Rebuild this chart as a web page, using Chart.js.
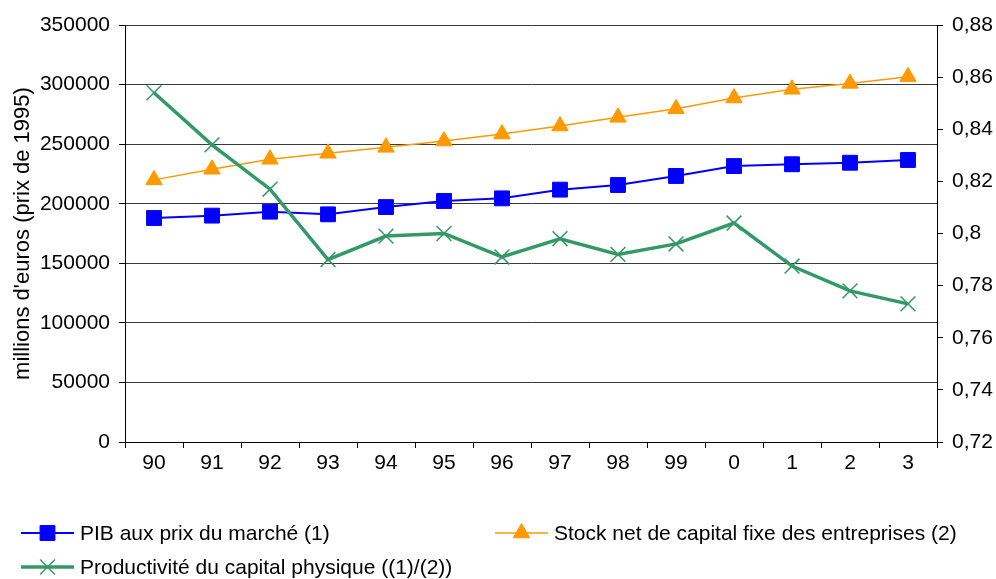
<!DOCTYPE html>
<html>
<head>
<meta charset="utf-8">
<script src="https://cdn.jsdelivr.net/npm/chart.js@4/dist/chart.umd.min.js"></script>
<style>
  html, body { margin: 0; padding: 0; background: #fff; }
</style>
</head>
<body>
<canvas id="myChart" width="996" height="579"></canvas>
<script>
// years (90..99 then 0..3)
const categories = ['90', '91', '92', '93', '94', '95', '96', '97', '98', '99', '0', '1', '2', '3'];
const pibValues = [188000, 190000, 193300, 191100, 197200, 202300, 204500, 211800, 215700, 223300, 231600, 233100, 234400, 236700];
const stockValues = [220000, 228900, 237300, 242300, 247300, 252600, 258500, 265200, 272500, 279700, 288700, 296000, 301000, 306600];
const productiviteValues = [0.854, 0.834, 0.817, 0.790, 0.799, 0.800, 0.791, 0.798, 0.792, 0.796, 0.804, 0.7875, 0.778, 0.773];
const seriesLabels = [
  'PIB aux prix du marché (1)',
  'Stock net de capital fixe des entreprises (2)',
  'Productivité du capital physique ((1)/(2))'
];

const FONT = { family: '"Liberation Sans", Arial, sans-serif', size: 21 };
Chart.defaults.font.family = FONT.family;
Chart.defaults.font.size = FONT.size;
Chart.defaults.color = '#000';

function drawMarker(ctx, style, x, y, r, color, lw) {
  ctx.save();
  ctx.fillStyle = color;
  ctx.strokeStyle = color;
  ctx.lineWidth = lw;
  ctx.beginPath();
  if (style === 'rect') {
    const s = r * Math.SQRT1_2;
    ctx.rect(x - s, y - s, 2 * s, 2 * s);
    ctx.fill();
    ctx.stroke();
  } else if (style === 'triangle') {
    ctx.moveTo(x, y - r);
    ctx.lineTo(x + r * Math.sin(2 * Math.PI / 3), y - r * Math.cos(2 * Math.PI / 3));
    ctx.lineTo(x + r * Math.sin(4 * Math.PI / 3), y - r * Math.cos(4 * Math.PI / 3));
    ctx.closePath();
    ctx.fill();
    ctx.stroke();
  } else {
    const d = r * Math.SQRT1_2;
    ctx.moveTo(x - d, y - d); ctx.lineTo(x + d, y + d);
    ctx.moveTo(x - d, y + d); ctx.lineTo(x + d, y - d);
    ctx.stroke();
  }
  ctx.restore();
}

// legend laid out like the original: two columns, two rows
const customLegend = {
  id: 'customLegend',
  afterDraw(chart) {
    const ctx = chart.ctx;
    const spots = [{ x: 21, y: 533 }, { x: 495, y: 533 }, { x: 21, y: 567 }];
    chart.data.datasets.forEach((ds, i) => {
      const p = spots[i];
      ctx.save();
      ctx.strokeStyle = ds.borderColor;
      ctx.lineWidth = ds.borderWidth;
      ctx.beginPath();
      ctx.moveTo(p.x, p.y);
      ctx.lineTo(p.x + 53, p.y);
      ctx.stroke();
      drawMarker(ctx, ds.pointStyle, p.x + 26.5, p.y, ds.pointRadius, ds.pointBackgroundColor, ds.pointBorderWidth);
      ctx.fillStyle = '#000';
      ctx.font = FONT.size + 'px ' + FONT.family;
      ctx.textBaseline = 'middle';
      ctx.textAlign = 'left';
      ctx.fillText(ds.label, p.x + 59, p.y + 1);
      ctx.restore();
    });
  }
};

const ctx = document.getElementById('myChart').getContext('2d');
new Chart(ctx, {
  type: 'line',
  data: {
    labels: categories,
    datasets: [
      {
        label: seriesLabels[0],
        data: pibValues,
        yAxisID: 'y',
        borderColor: '#0000FF',
        borderWidth: 2,
        pointStyle: 'rect',
        pointRadius: 10.5,
        pointBackgroundColor: '#0000FF',
        pointBorderColor: '#0000FF',
        pointBorderWidth: 1,
        tension: 0,
        order: 2
      },
      {
        label: seriesLabels[1],
        data: stockValues,
        yAxisID: 'y',
        borderColor: '#FF9900',
        borderWidth: 1.5,
        pointStyle: 'triangle',
        pointRadius: 9.5,
        pointBackgroundColor: '#FF9900',
        pointBorderColor: '#FF9900',
        pointBorderWidth: 1,
        tension: 0,
        order: 3
      },
      {
        label: seriesLabels[2],
        data: productiviteValues,
        yAxisID: 'y1',
        borderColor: '#339966',
        borderWidth: 3.5,
        pointStyle: 'crossRot',
        pointRadius: 10.5,
        pointBackgroundColor: '#339966',
        pointBorderColor: '#339966',
        pointBorderWidth: 1.5,
        tension: 0,
        order: 1
      }
    ]
  },
  options: {
    responsive: false,
    animation: false,
    events: [],
    layout: { padding: { top: 25, bottom: 97, left: 0, right: 0 } },
    plugins: {
      legend: { display: false },
      tooltip: { enabled: false }
    },
    scales: {
      x: {
        offset: true,
        grid: { offset: true, drawOnChartArea: false, tickLength: 6, tickColor: '#000' },
        border: { color: '#000', width: 1 },
        ticks: { padding: 3, maxRotation: 0, autoSkip: false },
        afterFit(scale) { scale.height = 40; }
      },
      y: {
        position: 'left',
        min: 0,
        max: 350000,
        ticks: { stepSize: 50000, padding: 9, callback: (v) => String(v) },
        grid: { color: '#3a3a3a', lineWidth: 1, tickLength: 6, tickColor: '#000' },
        border: { color: '#000', width: 1 },
        title: {
          display: true,
          text: "millions d'euros (prix de 1995)",
          font: { size: 22 },
          padding: { top: 10, bottom: 0 }
        },
        afterFit(scale) { scale.width = 125; }
      },
      y1: {
        position: 'right',
        min: 0.72,
        max: 0.88,
        ticks: {
          stepSize: 0.02,
          padding: 9,
          callback: (v) => String(Number(v.toFixed(2))).replace('.', ',')
        },
        grid: { drawOnChartArea: false, tickLength: 6, tickColor: '#000' },
        border: { color: '#000', width: 1 },
        afterFit(scale) { scale.width = 59; }
      }
    }
  },
  plugins: [customLegend]
});
</script>
</body>
</html>
